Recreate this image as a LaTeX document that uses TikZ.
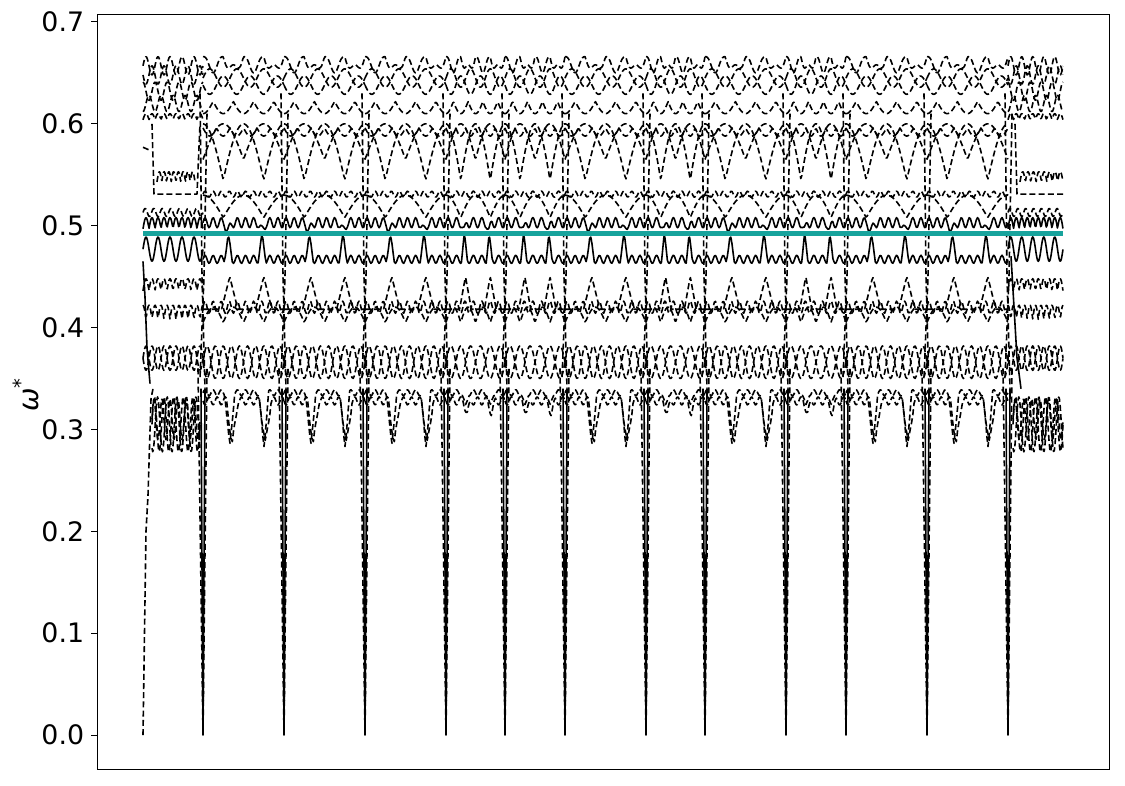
\documentclass[tikz,border=0pt]{standalone}
\usepackage{fontspec}
\setmainfont{DejaVu Sans}
\usetikzlibrary{calc}
\definecolor{tealline}{RGB}{23,163,156}
\tikzset{
  band/.style={line width=0.8pt, line join=round},
  bandd/.style={band, dash pattern=on 3pt off 1.6pt},
  declare function={tri(\x,\y,\z)=max(0,1-abs(\x-\y)/\z);}
}
\newcommand\bandline[2][bandd]{\draw[#1] plot[variable=\t,domain=0:1,samples=70] ({\a+\t*\w},{#2});}

\begin{document}
\begin{tikzpicture}[x=0.5pt,y=509.3pt]
    \useasboundingbox (0,-0.0491) rectangle (1125,0.7216);
    \draw[line width=0.5pt] (97,-0.0334) rectangle (1109,0.7078);
    \foreach \v/\nm in {0.0/t0,0.1/t1,0.2/t2,0.3/t3,0.4/t4,0.5/t5,0.6/t6,0.7/t7}
        \draw[line width=0.5pt] (97,\v) -- (91,\v) node[left, inner sep=3.2pt, font=\fontsize{13.4}{15}\selectfont] (\nm) {\v};
    \node[rotate=90, font=\fontsize{14}{16}\selectfont] (ylab) at (26,0.334) {\textit{ω}\textsuperscript{*}};

    \foreach \a/\b/\k in {203/284/1,284/365/1,365/446/1,446/505/0,505/565/0,565/646/1,646/705/0,705/786/1,786/846/0,846/927/1,927/1008/1}{
        \pgfmathsetmacro\w{\b-\a}
        \pgfmathtruncatemacro\n{round(\w/8.5)}
        \pgfmathtruncatemacro\m{round(\w/18)}
        \pgfmathsetmacro\dd{0.015+0.04*\k}
        \bandline{0.666-0.012*abs(sin(720*\t))+0.004*sin(2160*\t)}
        \bandline{0.645+0.009*sin(1080*\t)}
        \bandline{0.638-0.009*sin(1080*\t)}
        \bandline{0.622-0.012*abs(cos(720*\t))}
        \bandline{0.596-0.008*abs(sin(1080*\t))}
        \bandline{0.545+0.055*abs(cos(360*\t))}
        \bandline{0.565+0.035*abs(sin(360*\t))}
        \bandline{0.531+0.003*sin(360*\n*\t)}
        \bandline{0.508+0.022*abs(cos(360*\t))}
        \bandline[band]{0.503+0.005*sin(360*\n*\t)-0.009*(tri(\t,0.31,0.05)+tri(\t,0.73,0.05))}
        \bandline[band]{0.467+0.004*sin(360*\n*\t)+0.022*(tri(\t,0.31,0.05)+tri(\t,0.73,0.05))}
        \bandline{0.418+0.032*(tri(\t,0.33,0.1)+tri(\t,0.75,0.1))}
        \bandline{0.42+0.006*sin(360*\n*\t)}
        \bandline{0.405+0.015*abs(sin(720*\t))}
        \bandline{0.366+0.016*sin(360*\m*\t)}
        \bandline{0.366-0.016*sin(360*\m*\t)}
        \bandline{0.336+0.003*sin(360*\n*\t)-\dd*(tri(\t,0.33,0.06)+tri(\t,0.75,0.06))}
        \bandline{0.328-0.004*sin(360*\n*\t)-0.8*\dd*(tri(\t,0.36,0.07)+tri(\t,0.77,0.07))}
    }

    % dense end pieces
    \foreach \a/\b in {143/203,1008/1063}{
        \pgfmathsetmacro\w{\b-\a}
        \bandline{0.657+0.009*sin(1800*\t)}
        \bandline{0.648-0.009*sin(1800*\t)}
        \bandline{0.632+0.009*sin(1800*\t+90)}
        \bandline{0.62-0.008*sin(1800*\t+90)}
        \bandline{0.604+0.006*abs(sin(1800*\t))}
        \bandline{0.513+0.004*sin(2520*\t)}
        \bandline[band]{0.497+0.011*abs(sin(1800*\t))}
        \bandline[band]{0.477+0.012*sin(1800*\t)}
        \bandline{0.436+0.012*abs(sin(1800*\t))}
        \bandline{0.408+0.014*abs(cos(1800*\t))}
        \bandline{0.37+0.012*sin(1800*\t)}
        \bandline{0.37-0.012*sin(1800*\t)}
    }
    \foreach \a/\b in {152/200,1013/1063}{
        \pgfmathsetmacro\w{\b-\a}
        \bandline{0.305+0.027*sin(1800*\t)}
        \bandline{0.305-0.027*sin(1800*\t+60)}
        \bandline{0.31+0.02*sin(2160*\t)}
    }
    \foreach \a/\b in {157/195,1020/1063}{
        \pgfmathsetmacro\w{\b-\a}
        \bandline{0.543+0.01*abs(sin(1440*\t))}
    }
    \draw[bandd] (152,0.60) -- (154,0.531) -- (197,0.531) -- (200,0.60);
    \draw[bandd] (1015,0.60) -- (1017,0.531) -- (1063,0.531);
    \draw[bandd] (143,0.577) -- (150,0.574);
    \draw[bandd] (143,0) -- (146,0.2) -- (148,0.235) -- (151,0.33) -- (153,0.34);
    \draw[band] (143,0.465) -- (145,0.43) -- (147,0.38) -- (150,0.345);
    \draw[band] (1011,0.47) -- (1014,0.42) -- (1017,0.37) -- (1021,0.34);

    \foreach \p in {203,284,365,446,505,565,646,705,786,846,927,1008}{
        \draw[bandd] (\p-5,0.36) -- (\p,0) -- (\p+4,0.36);
        \draw[band] (\p-2,0.34) -- (\p,0) -- (\p+2,0.34);
        \draw[bandd] (\p-3,0.63) -- (\p-1,0.45) -- (\p+2,0.34);
        \draw[bandd] (\p+4,0.61) -- (\p+1,0.45) -- (\p-3,0.35);
    }

    \draw[tealline, line width=2.4pt] (143,0.492) -- (1063,0.492);
\end{tikzpicture}
\end{document}
